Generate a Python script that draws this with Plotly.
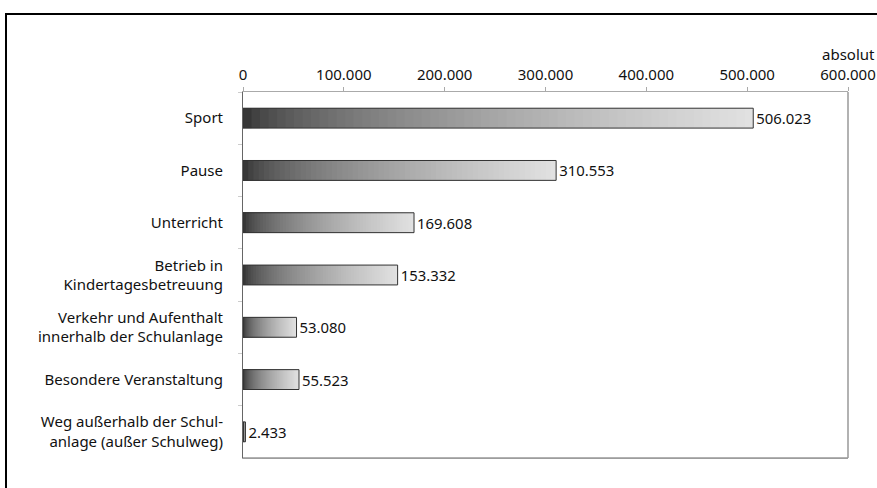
import plotly.graph_objects as go

categories = [
    "Sport",
    "Pause",
    "Unterricht",
    "Betrieb in<br>Kindertagesbetreuung",
    "Verkehr und Aufenthalt<br>innerhalb der Schulanlage",
    "Besondere Veranstaltung",
    "Weg außerhalb der Schul-<br>anlage (außer Schulweg)",
]
values = [506023, 310553, 169608, 153332, 53080, 55523, 2433]
tick_values = [0, 100000, 200000, 300000, 400000, 500000, 600000]
tick_labels = ["0", "100.000", "200.000", "300.000", "400.000", "500.000", "600.000"]

labels = [f"{v:,}".replace(",", ".") for v in values]

FONT = "Noto Sans"
FS = 15
N_SEG = 60
dark, light = 42, 226

fig = go.Figure()

# gradient: overlapping bars from 0, longest (lightest) drawn first
for k in range(N_SEG):
    frac = (N_SEG - k) / N_SEG
    t = (N_SEG - k - 0.5) / N_SEG
    g = int(dark + (light - dark) * t ** 0.55)
    fig.add_trace(go.Bar(
        y=categories,
        x=[v * frac for v in values],
        orientation="h",
        width=0.38,
        marker=dict(color=f"rgb({g},{g},{g})", line=dict(width=0)),
        hoverinfo="skip",
        showlegend=False,
    ))

# outline + value labels
fig.add_trace(go.Bar(
    y=categories,
    x=values,
    orientation="h",
    width=0.38,
    marker=dict(color="rgba(0,0,0,0)", line=dict(color="#333333", width=1)),
    text=labels,
    textposition="outside",
    cliponaxis=False,
    textfont=dict(family=FONT, size=FS, color="#111111"),
    showlegend=False,
))

fig.update_layout(
    barmode="overlay",
    width=877,
    height=488,
    margin=dict(l=243, r=29, t=92, b=30),
    paper_bgcolor="white",
    plot_bgcolor="white",
    font=dict(family=FONT, size=FS, color="#111111"),
    xaxis=dict(
        side="top",
        range=[0, 600000],
        tickvals=tick_values,
        ticktext=tick_labels,
        ticks="outside",
        ticklen=4,
        tickcolor="#aaaaaa",
        showgrid=False,
        zeroline=False,
        showline=True,
        linecolor="#aaaaaa",
        mirror=True,
        automargin=False,
        ticklabelstandoff=1,
        tickfont=dict(family=FONT, size=FS, color="#111111"),
    ),
    yaxis=dict(
        autorange="reversed",
        type="category",
        tickson="boundaries",
        ticks="outside",
        ticklen=4,
        tickcolor="#cccccc",
        showline=True,
        linecolor="#666666",
        showgrid=False,
        automargin=False,
        ticklabelstandoff=16,
        tickfont=dict(family=FONT, size=FS, color="#111111"),
    ),
    shapes=[
        dict(type="line", xref="paper", yref="paper", x0=1, x1=1, y0=0, y1=1,
             line=dict(color="#999999", width=1.5)),
        dict(type="line", xref="paper", yref="paper", x0=0, x1=1, y0=0, y1=0,
             line=dict(color="#999999", width=1.5)),
        dict(type="rect", xref="paper", yref="paper",
             x0=(6 - 243) / 605, x1=(900 - 243) / 605,
             y0=-0.2, y1=1 + (92 - 14) / 366,
             line=dict(color="black", width=2), fillcolor="rgba(0,0,0,0)"),
    ],
    annotations=[
        dict(text="absolut", xref="paper", yref="paper", x=1.0, y=1 + (92 - 54) / 366,
             xanchor="center", yanchor="middle", showarrow=False,
             font=dict(family=FONT, size=FS, color="#111111")),
    ],
)

fig.write_html("out.html")
